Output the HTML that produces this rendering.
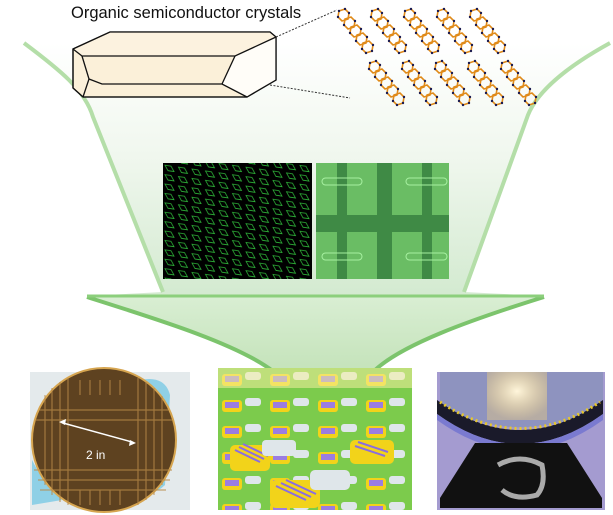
<!DOCTYPE html>
<html><head><meta charset="utf-8"><style>
html,body{margin:0;padding:0;background:#fff;width:613px;height:515px;overflow:hidden}
svg{display:block}
</style></head><body>
<svg width="613" height="515" viewBox="0 0 613 515" xmlns="http://www.w3.org/2000/svg">
<defs>
<linearGradient id="fun" x1="0" y1="0" x2="0" y2="1">
<stop offset="0" stop-color="#ffffff"/>
<stop offset="0.45" stop-color="#f0f7ee"/>
<stop offset="1" stop-color="#d3ead0"/>
</linearGradient>
<linearGradient id="vee" x1="0" y1="0" x2="0" y2="1">
<stop offset="0" stop-color="#d9eed3"/>
<stop offset="1" stop-color="#c4e3ba"/>
</linearGradient>
<pattern id="dia" width="13.5" height="9.4" patternUnits="userSpaceOnUse" patternTransform="translate(163,163) skewY(8)">
<rect width="13.5" height="9.4" fill="#000"/>
<path d="M2,2 L8,2 L11,7 L5,7 Z" fill="none" stroke="#2fb83a" stroke-width="0.8"/>
</pattern>
<pattern id="dev" width="48" height="26" patternUnits="userSpaceOnUse" patternTransform="translate(218,368)">
<rect width="48" height="26" fill="#7ccb4c"/>
<rect x="4" y="6" width="20" height="12" rx="3" fill="#f2d31a"/>
<rect x="7" y="8" width="14" height="6" fill="#9b7de0"/>
<rect x="27" y="4" width="16" height="8" rx="3" fill="#dfe6ea"/>
</pattern>
<radialGradient id="glow" cx="0.5" cy="0.4" r="0.6">
<stop offset="0" stop-color="#fff6dc"/>
<stop offset="1" stop-color="#f3d27a" stop-opacity="0.4"/>
</radialGradient>
<g id="mol">
<g fill="none" stroke="#e08a18" stroke-width="1.6">
<polygon points="1,2 7,0 11,4 10,10 4,12 0,8"/>
<polygon points="7,10 13,8 17,12 16,18 10,20 6,16"/>
<polygon points="13,18 19,16 23,20 22,26 16,28 12,24"/>
<polygon points="19,26 25,24 29,28 28,34 22,36 18,32"/>
<polygon points="25,34 31,32 35,36 34,42 28,44 24,40"/>
</g>
<g fill="#1a1a50">
<circle cx="1" cy="2" r="1.2"/><circle cx="7" cy="0" r="1.2"/><circle cx="0" cy="8" r="1.2"/><circle cx="11" cy="4" r="1.2"/>
<circle cx="6" cy="16" r="1.2"/><circle cx="17" cy="12" r="1.2"/><circle cx="12" cy="24" r="1.2"/><circle cx="23" cy="20" r="1.2"/>
<circle cx="18" cy="32" r="1.2"/><circle cx="29" cy="28" r="1.2"/><circle cx="24" cy="40" r="1.2"/><circle cx="35" cy="36" r="1.2"/>
<circle cx="28" cy="44" r="1.2"/><circle cx="34" cy="42" r="1.2"/>
</g>
</g>
</defs>

<!-- funnel upper -->
<path d="M24,43 C60,70 85,90 93,117 L163,292 L87,296 L544,296 L464,292 L528,115 C540,90 570,65 610,43 Z" fill="url(#fun)"/>
<path d="M24,43 C60,70 85,90 93,117 L163,292" fill="none" stroke="#b4dea8" stroke-width="4"/>
<path d="M610,43 C570,65 538,90 528,115 L464,292" fill="none" stroke="#b4dea8" stroke-width="4"/>
<!-- lower V -->
<path d="M87,296 L544,296 C470,320 400,345 373,372 L274,372 C240,345 160,320 87,296 Z" fill="url(#vee)"/>
<path d="M87,297 C160,320 240,345 274,372" fill="none" stroke="#7cc46c" stroke-width="4"/>
<path d="M544,297 C470,320 400,345 373,372" fill="none" stroke="#7cc46c" stroke-width="4"/>
<line x1="87" y1="296" x2="544" y2="296" stroke="#8ccf7c" stroke-width="3"/>

<!-- title -->
<text x="71" y="18" font-family="Liberation Sans, sans-serif" font-size="16.5" fill="#111">Organic semiconductor crystals</text>

<!-- crystal -->
<polygon points="73,49 110,32 270,32 276,37 276,80 247,97 83,97 73,88" fill="#fbf0d9" stroke="#111" stroke-width="1.3"/>
<polygon points="235,56 276,37 276,80 247,97 222,84" fill="#fffdf8"/>
<polygon points="73,49 110,32 270,32 276,37 235,56 82,56" fill="#fcf2df"/>
<polygon points="73,49 110,32 270,32 276,37 276,80 247,97 83,97 73,88" fill="none" stroke="#111" stroke-width="1.3"/>
<g fill="none" stroke="#111" stroke-width="1.3">
<polyline points="73,49 82,56 235,56 276,37"/>
<polyline points="82,56 89,79 83,97"/>
<polyline points="89,79 102,84 222,84 247,97"/>
<line x1="235" y1="56" x2="222" y2="84"/>
</g>
<line x1="276" y1="37" x2="337" y2="10" stroke="#333" stroke-dasharray="2,1.5"/>
<line x1="270" y1="85" x2="350" y2="98" stroke="#333" stroke-dasharray="2,1.5"/>

<!-- molecules -->
<use href="#mol" x="338" y="9"/><use href="#mol" x="371" y="9"/><use href="#mol" x="404" y="9"/><use href="#mol" x="437" y="9"/><use href="#mol" x="470" y="9"/>
<use href="#mol" x="369" y="61"/><use href="#mol" x="402" y="61"/><use href="#mol" x="435" y="61"/><use href="#mol" x="468" y="61"/><use href="#mol" x="501" y="61"/>

<!-- microscope left -->
<rect x="163" y="163" width="149" height="116" fill="url(#dia)"/>
<!-- microscope right -->
<rect x="316" y="163" width="133" height="116" fill="#6abd64"/>
<g fill="#3f8a45">
<rect x="337" y="163" width="10" height="116"/>
<rect x="377" y="163" width="15" height="116"/>
<rect x="422" y="163" width="10" height="116"/>
<rect x="316" y="215" width="133" height="17"/>
</g>
<g fill="none" stroke="#a6f0a0" stroke-width="1">
<rect x="322" y="178" width="40" height="7" rx="3.5"/><rect x="406" y="178" width="41" height="7" rx="3.5"/>
<rect x="322" y="253" width="40" height="7" rx="3.5"/><rect x="406" y="253" width="41" height="7" rx="3.5"/>
</g>

<!-- bottom left: wafer -->
<rect x="30" y="372" width="160" height="138" fill="#e4eaec"/>
<path d="M140,380 q25,-5 30,15 l-5,90 q-10,10 -20,5 Z" fill="#8fd0e6"/>
<path d="M32,460 q10,20 30,40 l-30,5 Z" fill="#8fd0e6"/>
<ellipse cx="104" cy="440" rx="72" ry="72" fill="#5e4220" stroke="#d6a550" stroke-width="2"/>
<g stroke="#b98a48" stroke-width="1.2" opacity="0.75">
<path d="M45,395 V485 M52,388 V495 M60,382 V502 M68,378 V505 M138,378 V505 M146,382 V500 M154,388 V495 M162,396 V485"/>
<path d="M40,410 H168 M36,420 H172 M34,470 H172 M38,480 H170 M40,490 H166"/>
<path d="M80,380 V395 M90,380 V395 M100,380 V395 M110,380 V395 M120,380 V395 M80,490 V505 M90,490 V505 M100,490 V505 M110,490 V505 M120,490 V505"/>
</g>
<line x1="63" y1="423" x2="132" y2="442" stroke="#fff" stroke-width="1.5"/>
<path d="M59,422 l7,-3 l-1,6 Z M136,443 l-7,3 l1,-6 Z" fill="#fff"/>
<text x="86" y="459" font-family="Liberation Sans, sans-serif" font-size="12" fill="#fff">2 in</text>

<!-- bottom center: devices -->
<rect x="218" y="368" width="194" height="142" fill="url(#dev)"/>
<rect x="218" y="368" width="194" height="20" fill="#f4f0a0" opacity="0.55"/>
<g>
<rect x="230" y="445" width="40" height="26" rx="5" fill="#f2d31a"/>
<path d="M235,450 l25,12 M239,447 l25,12 M243,444 l25,12" stroke="#8a6de0" stroke-width="2"/>
<rect x="262" y="440" width="34" height="16" rx="4" fill="#dfe6ea"/>
<rect x="270" y="480" width="50" height="28" rx="6" fill="#f2d31a"/>
<path d="M276,486 l30,14 M281,483 l30,14 M286,480 l30,14" stroke="#8a6de0" stroke-width="2"/>
<rect x="310" y="470" width="40" height="20" rx="5" fill="#dfe6ea"/>
<rect x="350" y="440" width="44" height="24" rx="5" fill="#f2d31a"/>
<path d="M355,446 l30,10 M358,442 l30,10" stroke="#8a6de0" stroke-width="2"/>
</g>

<!-- bottom right -->
<rect x="437" y="372" width="168" height="138" fill="#a49bd0"/>
<path d="M440,372 L603,372 L603,405 Q520,450 440,405 Z" fill="#8e93bf"/>
<rect x="487" y="372" width="60" height="48" fill="url(#glow)"/>
<path d="M437,400 Q520,460 603,400 L603,414 Q520,474 437,414 Z" fill="#1a1a2a"/>
<path d="M437,414 Q520,474 603,414 L603,420 Q520,480 437,420 Z" fill="#7a7ad0"/>
<path d="M440,402 Q520,455 600,402" fill="none" stroke="#e8c82a" stroke-width="3" stroke-dasharray="2,3"/>
<path d="M475,443 L567,443 L602,498 L602,508 L440,508 L440,498 Z" fill="#111"/>
<path d="M498,465 q22,-12 44,0 q4,20 -5,30 q-22,6 -35,-5" fill="none" stroke="#aaa" stroke-width="5"/>
</svg>
</body></html>
